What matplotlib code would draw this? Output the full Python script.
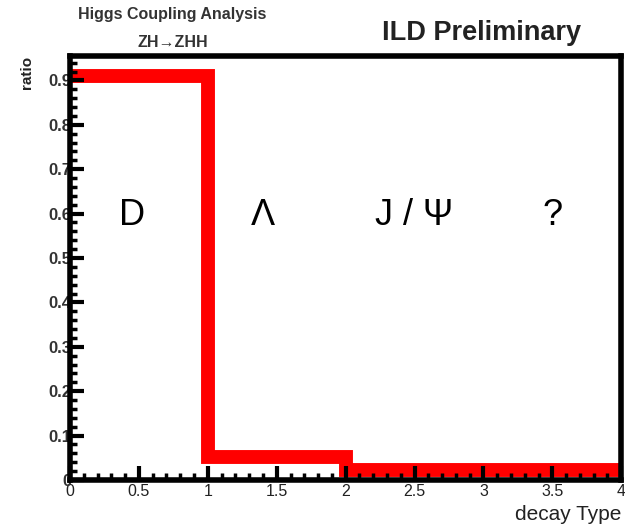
import matplotlib.pyplot as plt
from matplotlib.ticker import AutoMinorLocator

plt.rcParams['font.family'] = ['Liberation Sans', 'DejaVu Sans']

# histogram of decay types
edges = [0, 1, 2, 3, 4]
ratio = [0.91, 0.052, 0.022, 0.022]
labels = ["D", "Λ", "J / Ψ", "?"]
label_x = [0.45, 1.4, 2.5, 3.5]
label_y = 0.595
xtick_vals = [0, 0.5, 1, 1.5, 2, 2.5, 3, 3.5, 4]
xtick_text = ["0", "0.5", "1", "1.5", "2", "2.5", "3", "3.5", "4"]
ytick_vals = [0, 0.1, 0.2, 0.3, 0.4, 0.5, 0.6, 0.7, 0.8, 0.9]
ytick_text = ["0", "0.1", "0.2", "0.3", "0.4", "0.5", "0.6", "0.7", "0.8", "0.9"]

fig = plt.figure(figsize=(6.25, 5.26), dpi=100)
ax = fig.add_axes([0.112, 0.0875, 0.882, 0.806])

ax.stairs(ratio, edges, baseline=None, color="#ff0000", linewidth=10,
          joinstyle="miter")

for x, s in zip(label_x, labels):
    ax.text(x, label_y, s, fontsize=26, ha="center", va="center", color="black")

ax.set_xlim(0, 4)
ax.set_ylim(0, 0.955)

ax.set_xticks(xtick_vals)
ax.set_xticklabels(xtick_text)
ax.set_yticks(ytick_vals)
ax.set_yticklabels(ytick_text, fontweight="bold")
ax.xaxis.set_minor_locator(AutoMinorLocator(5))
ax.yaxis.set_minor_locator(AutoMinorLocator(5))

ax.tick_params(which="major", direction="in", length=10, width=3, colors="black")
ax.tick_params(which="minor", direction="in", length=5, width=2.5)
ax.tick_params(axis="y", labelcolor="#333333", labelsize=12, pad=-1)
ax.tick_params(axis="x", labelcolor="#222222", labelsize=11.5, pad=3)

for sp in ax.spines.values():
    sp.set_linewidth(4)

ax.set_ylabel("ratio", fontsize=11, fontweight="bold", loc="top", color="#222222")
ax.yaxis.set_label_coords(-0.065, 1.0)
ax.set_xlabel("decay Type", fontsize=15, loc="right", color="#222222")
ax.xaxis.set_label_coords(1.0, -0.058)

fig.text(0.275, 0.972, "Higgs Coupling Analysis", fontsize=11.5, fontweight="bold",
         ha="center", va="center", color="#333333")
fig.text(0.277, 0.920, "ZH→ZHH", fontsize=11.5, fontweight="bold",
         ha="center", va="center", color="#333333")
fig.text(0.77, 0.937, "ILD Preliminary", fontsize=19.5, fontweight="bold",
         ha="center", va="center", color="#222222")

fig.savefig("out.png", dpi=100)
